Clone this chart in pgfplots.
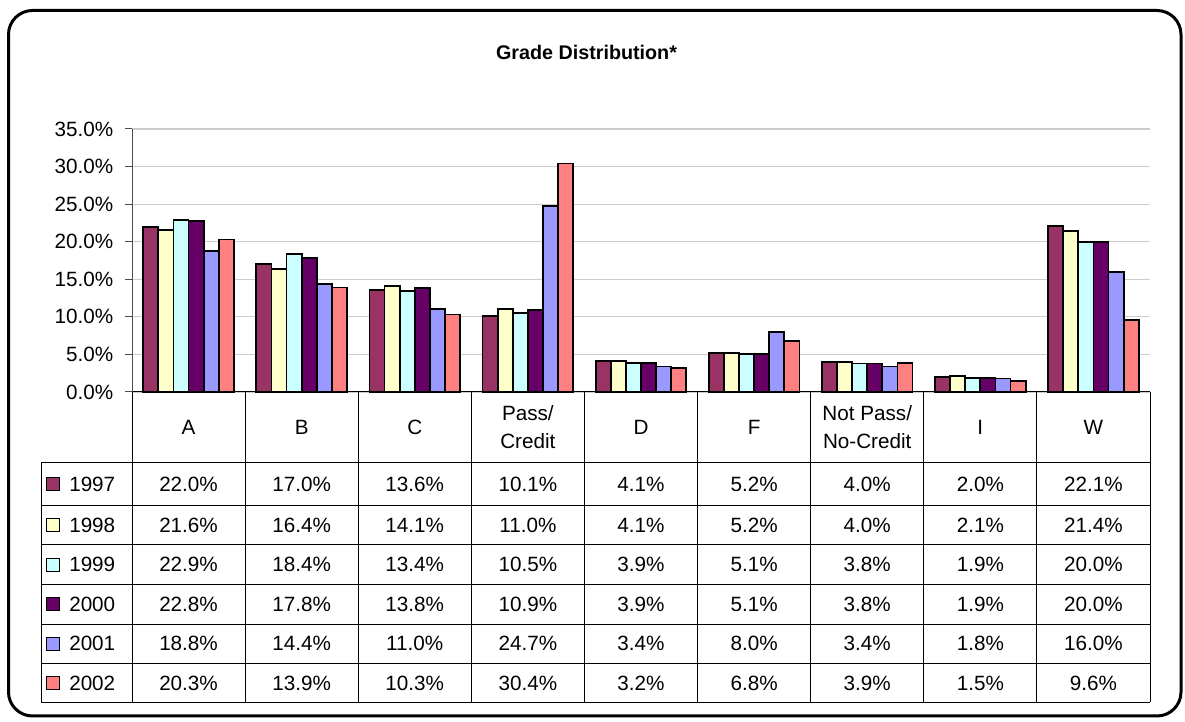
\documentclass[border=0pt]{standalone}
\usepackage{pgfplots}
\pgfplotsset{compat=1.18}
\usepackage{pgfplotstable}
\usepackage{fontspec}
\setmainfont{Liberation Sans}
\definecolor{c1997}{HTML}{993366}
\definecolor{c1998}{HTML}{FFFFCC}
\definecolor{c1999}{HTML}{CCFFFF}
\definecolor{c2000}{HTML}{660066}
\definecolor{c2001}{HTML}{9999FF}
\definecolor{c2002}{HTML}{FF8080}
\definecolor{gridgray}{HTML}{CCCCCC}
\newcommand\tfont{\fontsize{15.5}{21}\selectfont}
\pgfplotstableread{
x v1997 v1998 v1999 v2000 v2001 v2002
0 22.0 21.6 22.9 22.8 18.8 20.3
1 17.0 16.4 18.4 17.8 14.4 13.9
2 13.6 14.1 13.4 13.8 11.0 10.3
3 10.1 11.0 10.5 10.9 24.7 30.4
4 4.1 4.1 3.9 3.9 3.4 3.2
5 5.2 5.2 5.1 5.1 8.0 6.8
6 4.0 4.0 3.8 3.8 3.4 3.9
7 2.0 2.1 1.9 1.9 1.8 1.5
8 22.1 21.4 20.0 20.0 16.0 9.6
}\grades
\pgfplotsset{
  mybar/.style={ybar, bar width=0.1335, draw=black, line width=1.35pt, fill=#1, forget plot},
  rowtext/.style={only marks, mark=*, mark size=0pt, mark options={draw=none,fill=none},
    nodes near coords={\pgfmathprintnumber[fixed,fixed zerofill,precision=1]{\pgfplotspointmeta}\%},
    nodes near coords align=center,
    every node near coord/.append style={font=\tfont, text=black, inner sep=0pt},
    forget plot},
}
\begin{document}
\begin{tikzpicture}
\useasboundingbox (0,0) rectangle (888.75pt,540.75pt);
\draw[line width=2.25pt, rounded corners=18pt] (6.375pt,3.75pt) rectangle (885.75pt,532.875pt);
\node[font=\bfseries\fontsize{14.8}{18}\selectfont] at (439.9pt,501.75pt) {Grade Distribution*};
\begin{axis}[
  at={(99pt,246.75pt)}, anchor=south west,
  scale only axis, width=763.5pt, height=197.25pt,
  xmin=-0.5, xmax=8.5, ymin=0, ymax=35,
  clip=false,
  axis x line=bottom, axis y line=left, axis line style={-},
  x axis line style={black, line width=0.75pt},
  y axis line style={black!70, line width=0.75pt},
  ymajorgrids, grid style={gridgray, line width=0.9pt},
  ytick={0,5,...,35},
  yticklabel={\pgfmathprintnumber[fixed,fixed zerofill,precision=1]{\tick}\%},
  /pgf/number format/assume math mode=true,
  tick align=outside, major tick length=5.25pt,
  ytick style={black!70, line width=0.75pt},
  xtick={0,...,8}, xtick style={draw=none},
  xticklabels={A,B,C,{Pass/\\Credit},D,F,{Not Pass/\\No-Credit},I,W},
  xticklabel style={align=center, anchor=center, yshift=-21.35pt},
  tick label style={font=\tfont},
  yticklabel style={xshift=-5.25pt},
]
\addplot[mybar=c1997, bar shift=-0.33375] table[x=x,y=v1997] {\grades};
\addplot[mybar=c1998, bar shift=-0.20025] table[x=x,y=v1998] {\grades};
\addplot[mybar=c1999, bar shift=-0.06675] table[x=x,y=v1999] {\grades};
\addplot[mybar=c2000, bar shift=0.06675] table[x=x,y=v2000] {\grades};
\addplot[mybar=c2001, bar shift=0.20025] table[x=x,y=v2001] {\grades};
\addplot[mybar=c2002, bar shift=0.33375] table[x=x,y=v2002] {\grades};
% table values
\addplot[rowtext, point meta=\thisrow{v1997}] table[x=x, y expr=-12.277] {\grades};
\addplot[rowtext, point meta=\thisrow{v1998}] table[x=x, y expr=-17.733] {\grades};
\addplot[rowtext, point meta=\thisrow{v1999}] table[x=x, y expr=-22.990] {\grades};
\addplot[rowtext, point meta=\thisrow{v2000}] table[x=x, y expr=-28.246] {\grades};
\addplot[rowtext, point meta=\thisrow{v2001}] table[x=x, y expr=-33.503] {\grades};
\addplot[rowtext, point meta=\thisrow{v2002}] table[x=x, y expr=-38.726] {\grades};
% table grid
\draw[black, line width=0.75pt]
  (axis cs:-1.3045,-9.449) -- (axis cs:8.5,-9.449)
  (axis cs:-1.3045,-15.105) -- (axis cs:8.5,-15.105)
  (axis cs:-1.3045,-20.361) -- (axis cs:8.5,-20.361)
  (axis cs:-1.3045,-25.618) -- (axis cs:8.5,-25.618)
  (axis cs:-1.3045,-30.875) -- (axis cs:8.5,-30.875)
  (axis cs:-1.3045,-36.131) -- (axis cs:8.5,-36.131)
  (axis cs:-1.3045,-41.321) -- (axis cs:8.5,-41.321)
  (axis cs:-1.3045,-9.449) -- (axis cs:-1.3045,-41.321);
\draw[black, line width=0.75pt]
  (axis cs:-0.5,0) -- (axis cs:-0.5,-41.321)
  (axis cs:0.5,0) -- (axis cs:0.5,-41.321)
  (axis cs:1.5,0) -- (axis cs:1.5,-41.321)
  (axis cs:2.5,0) -- (axis cs:2.5,-41.321)
  (axis cs:3.5,0) -- (axis cs:3.5,-41.321)
  (axis cs:4.5,0) -- (axis cs:4.5,-41.321)
  (axis cs:5.5,0) -- (axis cs:5.5,-41.321)
  (axis cs:6.5,0) -- (axis cs:6.5,-41.321)
  (axis cs:7.5,0) -- (axis cs:7.5,-41.321)
  (axis cs:8.5,0) -- (axis cs:8.5,-41.321);
% legend keys of the data table
\node[draw=black, line width=0.75pt, fill=c1997, minimum size=9.4pt, inner sep=0pt] at (axis cs:-1.198,-12.277) {};
\node[draw=black, line width=0.75pt, fill=c1998, minimum size=9.4pt, inner sep=0pt] at (axis cs:-1.198,-17.733) {};
\node[draw=black, line width=0.75pt, fill=c1999, minimum size=9.4pt, inner sep=0pt] at (axis cs:-1.198,-22.990) {};
\node[draw=black, line width=0.75pt, fill=c2000, minimum size=9.4pt, inner sep=0pt] at (axis cs:-1.198,-28.246) {};
\node[draw=black, line width=0.75pt, fill=c2001, minimum size=9.4pt, inner sep=0pt] at (axis cs:-1.198,-33.503) {};
\node[draw=black, line width=0.75pt, fill=c2002, minimum size=9.4pt, inner sep=0pt] at (axis cs:-1.198,-38.726) {};
\node[anchor=west, inner sep=0pt, font=\tfont] at (axis cs:-1.057,-12.277) {1997};
\node[anchor=west, inner sep=0pt, font=\tfont] at (axis cs:-1.057,-17.733) {1998};
\node[anchor=west, inner sep=0pt, font=\tfont] at (axis cs:-1.057,-22.990) {1999};
\node[anchor=west, inner sep=0pt, font=\tfont] at (axis cs:-1.057,-28.246) {2000};
\node[anchor=west, inner sep=0pt, font=\tfont] at (axis cs:-1.057,-33.503) {2001};
\node[anchor=west, inner sep=0pt, font=\tfont] at (axis cs:-1.057,-38.726) {2002};
\end{axis}
\end{tikzpicture}
\end{document}
